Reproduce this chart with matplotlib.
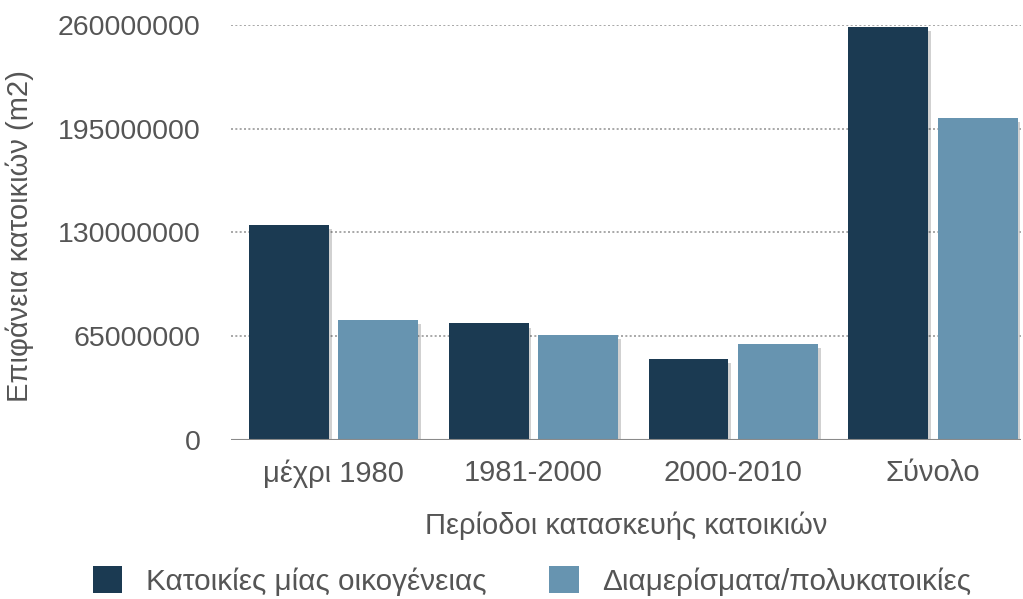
import matplotlib
matplotlib.use("Agg")
import matplotlib.pyplot as plt
import numpy as np
from matplotlib.patches import Patch
import matplotlib.patheffects as pe

# Data
periods = ["μέχρι 1980", "1981-2000", "2000-2010", "Σύνολο"]
single_family = [135e6, 73e6, 51e6, 259e6]
apartments = [75e6, 66e6, 60e6, 202e6]
series_names = ["Κατοικίες μίας οικογένειας", "Διαμερίσματα/πολυκατοικίες"]
y_ticks = [0, 65000000, 130000000, 195000000, 260000000]

dark = "#1b3a52"
light = "#6794b0"
text_col = "#555555"

plt.rcParams["font.family"] = ["Liberation Sans", "DejaVu Sans"]

fig = plt.figure(figsize=(10.23, 5.99), dpi=100)
ax = fig.add_axes([231 / 1023, 1 - 440 / 599, (1021 - 231) / 1023, (440 - 25) / 599])

x = np.arange(len(periods))
w = 0.40
off = 0.2235
shadow = [pe.SimplePatchShadow(offset=(2, -3), shadow_rgbFace="#000000", alpha=0.18), pe.Normal()]
b1 = ax.bar(x - off, single_family, w, color=dark, zorder=3)
b2 = ax.bar(x + off, apartments, w, color=light, zorder=3)
for b in list(b1) + list(b2):
    b.set_path_effects(shadow)

ax.set_xlim(-0.5125, 3.44)
ax.set_ylim(0, 260e6)
ax.set_yticks(y_ticks)
ax.set_yticklabels([str(v) for v in y_ticks])
ax.set_xticks(x)
ax.set_xticklabels(periods)

for t in y_ticks[1:]:
    ax.axhline(t, color="#9a9a9a", lw=1.2, ls=(0, (1.2, 1.4)), zorder=1)
ax.axhline(0, color="#8a8a8a", lw=1.5, zorder=4)

for s in ax.spines.values():
    s.set_visible(False)
ax.tick_params(axis="both", length=0, colors=text_col)
ax.tick_params(axis="y", pad=22, labelsize=20.5)
ax.tick_params(axis="x", pad=14, labelsize=21)

ax.set_xlabel("Περίοδοι κατασκευής κατοικιών", fontsize=21, color=text_col, labelpad=17)
fig.text(20 / 1023, 1 - 236 / 599, "Επιφάνεια κατοικιών (m2)", rotation=90,
         fontsize=21, color=text_col, ha="center", va="center")

handles = [Patch(facecolor=dark), Patch(facecolor=light)]
fig.legend(handles, series_names, loc="center", bbox_to_anchor=(532 / 1023, 1 - 581 / 599),
           ncol=2, frameon=False, fontsize=21.4, labelcolor=text_col,
           handlelength=1.0, handleheight=1.0, handletextpad=0.8, columnspacing=2.1)

fig.savefig("out.png", dpi=100, facecolor="white")
